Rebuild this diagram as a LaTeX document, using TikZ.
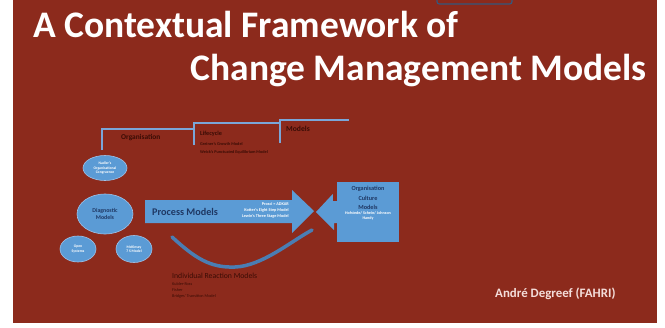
\documentclass[tikz,border=0pt]{standalone}
\usepackage{fontspec}
\setmainfont{Carlito}
\usetikzlibrary{shapes.geometric}
\newcommand{\pix}{0.03cm}
\definecolor{slide}{HTML}{8C2A1C}
\definecolor{boxblue}{HTML}{5B9BD5}
\definecolor{rimblue}{HTML}{9EC3EA}
\definecolor{linkblue}{HTML}{7AA6D8}
\definecolor{swingblue}{HTML}{4A7DB3}
\definecolor{navy}{HTML}{1F3864}
\definecolor{ink}{HTML}{3A0C05}
\definecolor{pale}{HTML}{F4DDDA}

\begin{document}
\begin{tikzpicture}[x=\pix, y=-\pix,
    blob/.style={ellipse, fill=boxblue, draw=rimblue, line width=0.5pt, inner sep=0pt, align=center, text=white, font=\fontsize{3.2}{3.8}\selectfont\bfseries},
    note/.style={anchor=base west, inner sep=0pt, text=ink, font=\fontsize{3.6}{4}\selectfont\bfseries},
    head/.style={anchor=base west, inner sep=0pt, text=ink, font=\fontsize{6.3}{7}\selectfont\bfseries},
    sub/.style={anchor=base east, inner sep=0pt, text=white, font=\fontsize{3.6}{4}\selectfont\bfseries},
    title/.style={inner sep=0pt, text=white, font=\fontsize{32}{34}\selectfont\bfseries},
    bracket/.style={linkblue, line width=2.4pt},
    swing/.style={swingblue, line width=3pt, line cap=round}]
    \useasboundingbox (0,0) rectangle (665,327);
    \fill[white] (0,0) rectangle (665,327);
    \fill[slide] (13,0) rectangle (657,323);
    \draw[swingblue!70!black, line width=1pt, rounded corners=2pt] (437,-3) -- (437,4) -- (512,4) -- (512,-3);

    % Title
    \node[title, anchor=base west] (title-1) at (33,37) {A Contextual Framework of};
    \node[title, anchor=base east] (title-2) at (647,80) {Change Management Models};

    % Diagnostic models
    \node[blob, minimum width=44*\pix, minimum height=25*\pix] (nadler) at (105,168) {Nadler's\\Organisational\\Congruence};
    \node[blob, minimum width=56*\pix, minimum height=40*\pix, text=navy, font=\fontsize{5}{6}\selectfont\bfseries] (diag) at (105,214) {Diagnostic\\Models};
    \node[blob, minimum width=36*\pix, minimum height=26*\pix] (open) at (78,249) {Open\\Systems};
    \node[blob, minimum width=36*\pix, minimum height=27*\pix] (mckinsey) at (134,249) {McKinsey\\7 S Model};

    % Organisation lifecycle steps
    \coordinate (step-1) at (102,150);
    \coordinate (step-2) at (194,145);
    \coordinate (step-3) at (280,143);
    \draw[bracket] (step-1) -- (102,129) -- (194,129);
    \draw[bracket] (step-2) -- (194,123) -- (280,123);
    \draw[bracket] (step-3) -- (280,120) -- (349,120);
    \node[head] (org) at (121,139) {Organisation};
    \node[head, font=\fontsize{5.3}{6}\selectfont\bfseries] (life) at (200,135) {Lifecycle};
    \node[note] (greiner) at (200,145) {Greiner's Growth Model};
    \node[note] (weick) at (200,153) {Weick's Punctuated Equilibrium Model};
    \node[head, font=\fontsize{6.5}{7}\selectfont\bfseries] (models) at (286,131) {Models};

    % Process models
    \fill[boxblue] (145,200) -- (292,200) -- (292,190) -- (314,211) -- (292,233) -- (292,223) -- (145,223) -- cycle;
    \node[anchor=west, inner sep=0pt, text=navy, font=\fontsize{8.7}{9}\selectfont\bfseries] (process) at (152,212) {Process Models};
    \node[sub] (prosci) at (289,205) {Prosci = ADKAR};
    \node[sub] (kotter) at (289,211) {Kotter's Eight Step Model};
    \node[sub] (lewin) at (289,217) {Lewin's Three Stage Model};

    % Culture models
    \node[fill=boxblue, minimum width=62*\pix, minimum height=60*\pix, inner sep=0pt] (culture) at (368,212) {};
    \fill[boxblue] (culture.west) ++(1,-11) -- ++(-5,0) -- ++(0,-7) -- (316,212) -- (334,230) -- (334,223) -- (338,223) -- cycle;
    \node[inner sep=0pt, align=center, text=navy, font=\fontsize{5.3}{8.2}\selectfont\bfseries, anchor=north] (culture-name) at (368,186) {Organisation\\Culture\\Models};
    \node[inner sep=0pt, align=center, text=white, font=\fontsize{3.5}{5}\selectfont\bfseries, anchor=north] (culture-sub) at (368,211) {Hofstede/ Schein/ Johnson\\Handy};

    % Individual reaction models
    \coordinate (swing-a) at (172,237);
    \coordinate (swing-b) at (312,230);
    \draw[swing] (swing-a) .. controls (195,258) and (210,268) .. (235,267) .. controls (262,266) and (290,242) .. (swing-b);
    \node[head, font=\fontsize{6.6}{7}\selectfont] (reaction) at (172,278) {Individual Reaction Models};
    \node[note, font=\fontsize{3.6}{4}\selectfont] (kubler) at (172,285) {Kubler-Ross};
    \node[note, font=\fontsize{3.6}{4}\selectfont] (fisher) at (172,291) {Fisher};
    \node[note, font=\fontsize{3.6}{4}\selectfont] (bridges) at (172,297) {Bridges' Transition Model};

    % Author
    \node[anchor=base west, inner sep=0pt, text=pale, font=\fontsize{11}{12}\selectfont\bfseries] (author) at (495,297) {André Degreef (FAHRI)};
\end{tikzpicture}
\end{document}
